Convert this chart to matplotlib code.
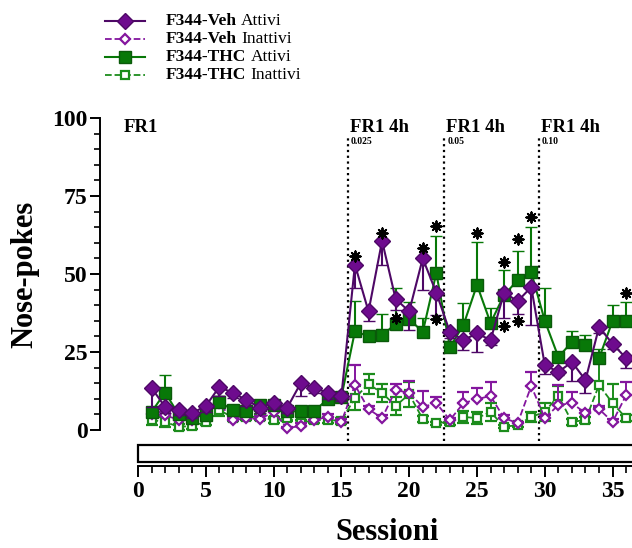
import numpy as np
import matplotlib.pyplot as plt
from matplotlib.lines import Line2D
from matplotlib.patches import Rectangle

plt.rcParams['font.family'] = ['Liberation Serif', 'DejaVu Serif']

# sessions 1..36
sessions = np.arange(1, 37)

veh_att = [13.5, 7.4, 6.4, 5.4, 7.7, 13.8, 11.9, 9.6, 7.1, 8.7, 7.1, 15.0, 13.5, 11.9, 10.9,
           53.0, 38.0, 60.6, 42.0, 38.0, 55.0, 44.0, 31.4, 28.8, 31.0, 28.8, 44.0, 41.3, 45.8,
           20.8, 18.6, 21.8, 16.0, 33.0, 27.6, 23.0]
veh_att_err = [6, 2, 1.5, 1.5, 2, 3, 1.5, 2, 1.5, 2, 1.5, 4, 1.5, 2, 1.5,
               7.5, 3, 7.6, 3.5, 6, 10, 7, 2, 3, 6, 1.5, 8, 4, 12,
               3, 1, 6, 4, 2, 1.5, 3]

thc_att = [5.8, 12.0, 5.0, 4.0, 4.8, 9.0, 6.4, 6.0, 8.0, 8.0, 6.0, 6.0, 6.0, 10.0, 10.6,
           31.7, 30.0, 30.3, 34.0, 35.6, 31.4, 50.3, 26.6, 33.6, 46.5, 34.3, 43.3, 48.0, 50.6,
           35.0, 23.4, 28.2, 27.2, 23.0, 35.0, 35.0]
thc_att_err = [1, 5.5, 1, 1, 1, 2, 1, 1, 1.5, 1.5, 1, 1, 1, 1.5, 1,
               9.5, 1, 7, 11.5, 5.5, 4.5, 12, 1, 7, 13.7, 4.7, 8, 9.4, 14.5,
               10.5, 1, 3.5, 3.2, 3, 5, 6]

veh_inatt = [5.0, 4.8, 3.2, 3.2, 6.4, 8.6, 3.2, 3.8, 3.5, 5.8, 0.6, 1.3, 3.2, 4.2, 2.6,
             14.4, 6.7, 3.8, 12.8, 11.9, 7.4, 8.6, 3.2, 8.6, 9.9, 10.9, 3.8, 2.2, 14.1,
             3.8, 8.0, 8.6, 5.4, 6.7, 2.6, 11.2]
veh_inatt_err = [1, 1, 1, 1, 1, 2, 0.5, 1, 1, 1.5, 0.5, 1, 1, 1, 1,
                 6.4, 1, 1, 2, 3.8, 5, 2, 0.5, 3.6, 3.6, 4.5, 1, 0.5, 4.5,
                 1, 6.4, 3.6, 1, 1, 1, 4.2]

thc_inatt = [3.2, 2.6, 1.0, 1.3, 2.6, 6.4, 4.0, 4.2, 4.2, 3.2, 3.8, 2.2, 3.2, 3.2, 3.0,
             10.3, 14.7, 11.9, 7.7, 11.5, 3.5, 2.2, 2.6, 4.2, 3.8, 5.8, 1.0, 1.6, 4.2,
             5.8, 11.0, 2.6, 3.2, 14.4, 8.6, 3.8]
thc_inatt_err = [1.5, 1.5, 1, 1, 1, 2, 1, 1, 1, 1, 1, 1, 1, 1, 1,
                 3.8, 3.2, 3, 3, 4, 1, 0.5, 1, 2, 2, 3, 0.5, 0.5, 1.5,
                 3, 3, 1, 1, 7, 6, 1]

# significance stars
star_x = [16, 18, 19, 21, 22, 22, 25, 27, 27, 28, 28, 29, 36]
star_y = [55.8, 63, 36, 58.3, 65.4, 35.6, 63.3, 54, 33.3, 61.3, 35, 68.3, 44]

# phase separators and labels
phase_lines = [15.5, 22.6, 29.6]
phase_labels = ["FR1 4h", "FR1 4h", "FR1 4h"]
dose_labels = ["0.025", "0.05", "0.10"]

W, H = 632, 548
fig = plt.figure(figsize=(W / 100, H / 100), dpi=100)

x0, x1 = -2.80, 36.43
ax = fig.add_axes([100 / W, 1 - 430 / H, (W - 100) / W, (430 - 118) / H])
ax.set_xlim(x0, x1)
ax.set_ylim(0, 100)

purple = '#6e0b8e'
purple_dark = '#4e0866'
green = '#087808'
green_dark = '#0a5a0a'

z = np.zeros(36)

ax.errorbar(sessions, thc_inatt, yerr=[thc_inatt_err, thc_inatt_err], color='#1c8c1c',
            ls='--', lw=1.3, marker='s', ms=6, mfc='white', mec='#1c8c1c', mew=1.6,
            capsize=4, capthick=1.6, elinewidth=1.4, clip_on=False, zorder=2)
ax.errorbar(sessions, veh_inatt, yerr=[z, veh_inatt_err], color='#84169e',
            ls='--', lw=1.3, marker='D', ms=4.8, mfc='white', mec='#84169e', mew=1.6,
            capsize=4, capthick=1.6, elinewidth=1.4, clip_on=False, zorder=3)
ax.errorbar(sessions, thc_att, yerr=[z, thc_att_err], color=green,
            ls='-', lw=1.5, marker='s', ms=8.5, mfc=green, mec=green_dark, mew=1,
            capsize=4.5, capthick=2, elinewidth=1.5, clip_on=False, zorder=4)
ax.errorbar(sessions, veh_att, yerr=[veh_att_err, z], color=purple_dark,
            ls='-', lw=1.5, marker='D', ms=8.3, mfc=purple, mec=purple_dark, mew=1,
            capsize=4.5, capthick=2, elinewidth=1.5, clip_on=False, zorder=5)

ax.scatter(star_x, star_y, marker=(8, 2, 0), s=55, color='black', linewidths=1.4,
           zorder=6, clip_on=False)

for xl in phase_lines:
    ax.plot([xl, xl], [-3.5, 94], color='black', ls=(0, (1, 1.6)), lw=1.6,
            clip_on=False, zorder=1)

ax.text(-1.05, 95.5, "FR1", fontsize=13.5, weight='bold', ha='left', va='baseline')
for xl, lab, dose in zip(phase_lines, phase_labels, dose_labels):
    ax.text(xl + 0.15, 95.5, lab, fontsize=13.5, weight='bold', ha='left', va='baseline')
    ax.text(xl + 0.2, 92.5, dose, fontsize=7, weight='bold', ha='left', va='center')

for side in ['top', 'right', 'bottom']:
    ax.spines[side].set_visible(False)
ax.spines['left'].set_linewidth(1.4)
ax.set_xticks([])
ax.set_yticks([0, 25, 50, 75, 100])
ax.set_yticks(np.arange(0, 101, 5), minor=True)
ax.tick_params(axis='y', which='major', length=7, width=1.4, labelsize=17, pad=2)
ax.tick_params(axis='y', which='minor', length=4, width=1.2)
for lab in ax.get_yticklabels():
    lab.set_fontweight('bold')
fig.text(25 / W, 1 - 274 / H, "Nose-pokes", fontsize=22, weight='bold',
         rotation=90, ha='center', va='center')

# x axis with bar
ax2 = fig.add_axes([100 / W, 1 - 466 / H, (W - 100) / W, 22 / H])
ax2.set_xlim(x0, x1)
ax2.set_ylim(0, 1)
for side in ['top', 'right', 'left']:
    ax2.spines[side].set_visible(False)
ax2.spines['bottom'].set_bounds(0, x1)
ax2.spines['bottom'].set_linewidth(1.4)
ax2.set_yticks([])
ax2.set_xticks(np.arange(0, 36, 5))
ax2.set_xticks(np.arange(0, 37, 1), minor=True)
ax2.tick_params(axis='x', which='major', length=8, width=1.4, labelsize=17, pad=3)
ax2.tick_params(axis='x', which='minor', length=5, width=1.2)
for lab in ax2.get_xticklabels():
    lab.set_fontweight('bold')
ax2.add_patch(Rectangle((0, 0.18), 40, 0.77, facecolor='white', edgecolor='black',
                        lw=1.6, clip_on=False))
fig.text(387 / W, 1 - 533 / H, "Sessioni", fontsize=22, weight='bold',
         ha='center', va='center')

# legend drawn by hand (bold + regular text)
legend_rows = [
    ("F344-Veh", "Attivi", dict(color=purple_dark, ls='-', marker='D', ms=8.3,
                                mfc=purple, mec=purple_dark, lw=1.5)),
    ("F344-Veh", "Inattivi", dict(color='#84169e', ls='--', marker='D', ms=4.8,
                                  mfc='white', mec='#84169e', mew=1.6, lw=1.3)),
    ("F344-THC", "Attivi", dict(color=green, ls='-', marker='s', ms=8.5,
                                mfc=green, mec=green_dark, lw=1.5)),
    ("F344-THC", "Inattivi", dict(color='#1c8c1c', ls='--', marker='s', ms=6,
                                  mfc='white', mec='#1c8c1c', mew=1.6, lw=1.3)),
]
row_y = [21, 39, 57, 75]
renderer = fig.canvas.get_renderer()
for (bold, reg, style), yp in zip(legend_rows, row_y):
    yf = 1 - yp / H
    fig.add_artist(Line2D([105 / W, 125 / W, 145 / W], [yf, yf, yf], markevery=[1],
                          transform=fig.transFigure, **style))
    t = fig.text(166 / W, yf, bold, fontsize=12.5, weight='bold', va='center')
    bb = t.get_window_extent(renderer)
    fig.text((bb.x1 + 4) / W, yf, reg, fontsize=12.5, va='center')

fig.savefig("out.png", dpi=100)
